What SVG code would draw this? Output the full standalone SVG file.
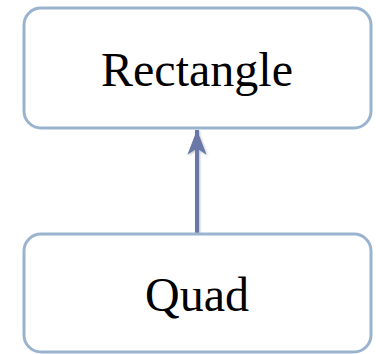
<svg xmlns="http://www.w3.org/2000/svg" width="376" height="354" viewBox="0 0 376 354">
  <defs>
    <style>
      .box { fill: #ffffff; stroke: #9ab4cf; stroke-width: 3; }
      .label { font-family: "Liberation Serif", "DejaVu Serif", serif; font-size: 48px; fill: #000000; text-anchor: middle; }
      .link { stroke: #6b78a8; stroke-width: 4; fill: none; }
    </style>
    <marker id="arrowhead" markerWidth="6.5" markerHeight="5" refX="6.2" refY="2.4" orient="auto" markerUnits="strokeWidth">
      <path d="M0,0 L6.25,2.4 L0,4.8 L1.6,2.4 Z" fill="#6b78a8"/>
    </marker>
    <filter id="soft" filterUnits="userSpaceOnUse" x="170" y="110" width="60" height="140">
      <feDropShadow dx="1" dy="1" stdDeviation="1.2" flood-color="#000" flood-opacity="0.25"/>
    </filter>
  </defs>

  <g id="connectors">
    <line class="link" x1="197" y1="233" x2="197" y2="130" marker-end="url(#arrowhead)" filter="url(#soft)"/>
  </g>

  <g id="rectangle">
    <rect class="box" x="24" y="8" width="347" height="120" rx="17" ry="17"/>
    <text class="label" x="197" y="86">Rectangle</text>
  </g>

  <g id="quad">
    <rect class="box" x="24" y="234" width="347" height="118" rx="17" ry="17"/>
    <text class="label" x="197" y="311">Quad</text>
  </g>
</svg>
